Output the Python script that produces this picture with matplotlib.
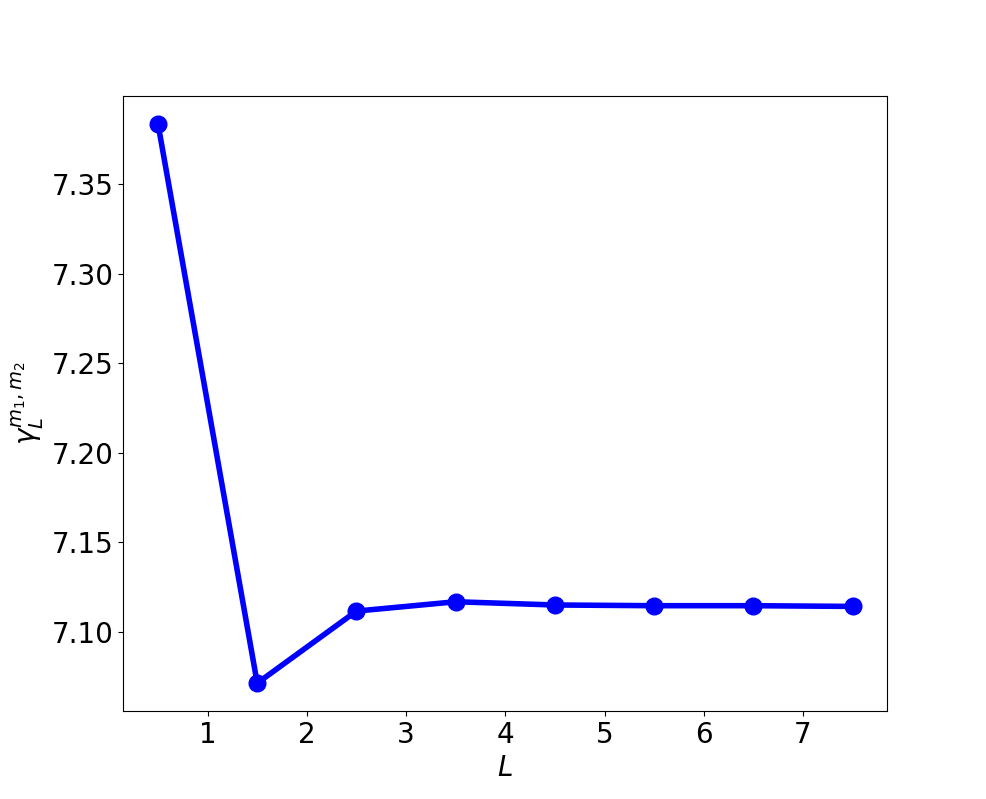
import matplotlib
matplotlib.use("Agg")
import matplotlib.pyplot as plt

# L values and the measured gamma for each
L_values = [0.5, 1.5, 2.5, 3.5, 4.5, 5.5, 6.5, 7.5]
gamma_values = [7.3835, 7.0715, 7.1117, 7.1169, 7.1151, 7.1147, 7.1147, 7.1143]


def gamma_plot(L, gamma):
    fig, ax = plt.subplots(figsize=(9.86, 7.99), dpi=100)
    ax.plot(L, gamma, 'bo-', linewidth=4, markersize=12)
    ax.set_xlabel("$L$", fontsize=20)
    ax.set_ylabel("$\\gamma_L^{m_1,m_2}$", fontsize=20)
    ax.set_xticks(range(1, 8))
    ax.tick_params(labelsize=20)
    fig.savefig("out.png")


gamma_plot(L_values, gamma_values)
